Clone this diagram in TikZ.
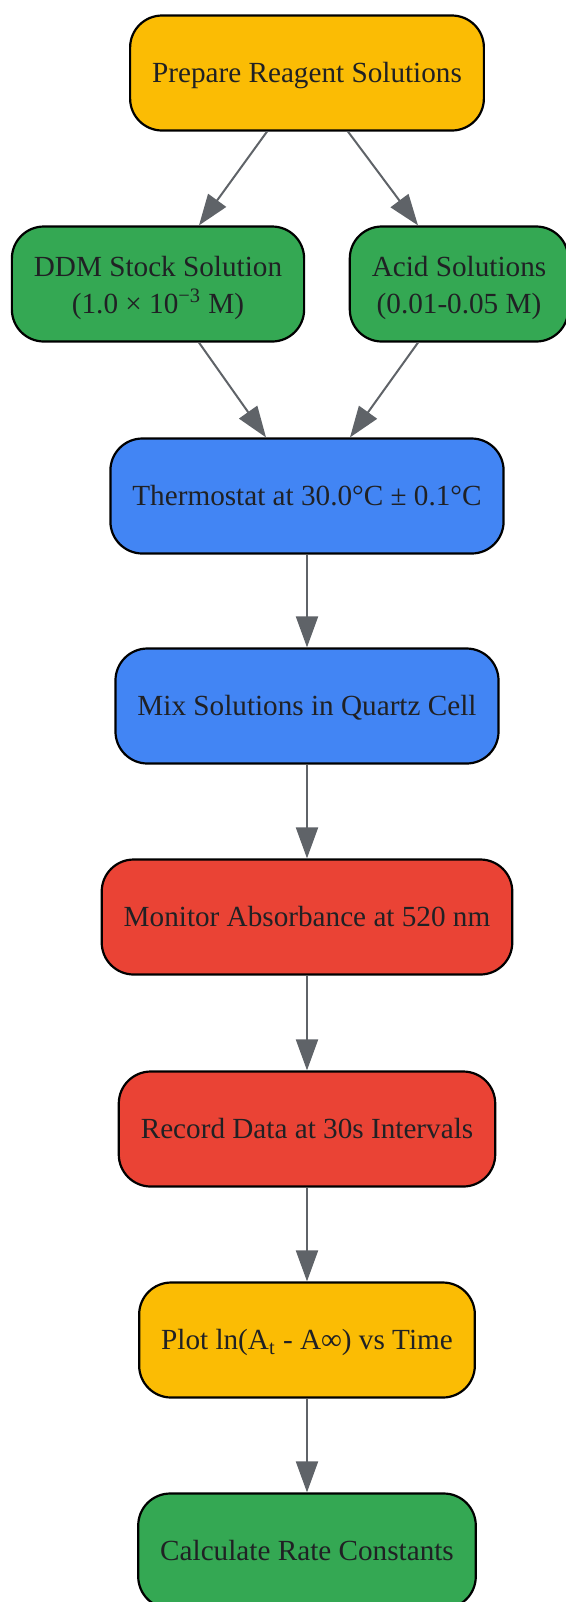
\documentclass[tikz,border=0pt]{standalone}
\usepackage{fontspec}
\setmainfont{Liberation Serif}
\usetikzlibrary{arrows.meta}
\definecolor{gyellow}{HTML}{FBBC04}
\definecolor{ggreen}{HTML}{34A853}
\definecolor{gblue}{HTML}{4285F4}
\definecolor{gred}{HTML}{EA4335}
\definecolor{ggrey}{HTML}{5F6368}
\definecolor{gtext}{HTML}{202124}
\begin{document}
\begin{tikzpicture}[x=0.5pt, y=-0.5pt,
			stage/.style={rectangle, rounded corners=16pt, draw=black, line width=1.1pt,
				minimum height=57.5pt, inner xsep=11pt, align=center, text=gtext,
				text height=12pt, text depth=2.3pt,
				font=\fontsize{14.6}{18.3}\selectfont},
			twoline/.style={text height=30.5pt, text depth=1.3pt},
			flow/.style={draw=ggrey, line width=1pt, -{Triangle[length=15.5pt,width=11pt]}}]
				\useasboundingbox (0,0) rectangle (566,1602);
				\node[stage, fill=gyellow] (1) at(307,73){Prepare Reagent Solutions};
				\node[stage, twoline, fill=ggreen] (2) at(158,284){DDM Stock Solution\\(1.0 × 10\textsuperscript{−3} M)};
				\node[stage, twoline, fill=ggreen] (3) at(459,284){Acid Solutions\\(0.01-0.05 M)};
				\node[stage, fill=gblue] (4) at(307,496){Thermostat at 30.0°C ± 0.1°C};
				\node[stage, fill=gblue] (5) at(307,706){Mix Solutions in Quartz Cell};
				\node[stage, fill=gred] (6) at(307,917){Monitor Absorbance at 520 nm};
				\node[stage, fill=gred] (7) at(307,1129){Record Data at 30s Intervals};
				\node[stage, fill=gyellow] (8) at(307,1340){Plot ln(A\textsubscript{t} - A∞) vs Time};
				\node[stage, fill=ggreen] (9) at(307,1551){Calculate Rate Constants};
				\draw[flow] ([xshift=-20pt]1.south) -- ([xshift=20.5pt]2.north);
				\draw[flow] ([xshift=20.5pt]1.south) -- ([xshift=-20.5pt]3.north);
				\draw[flow] ([xshift=20.5pt]2.south) -- ([xshift=-20.5pt]4.north);
				\draw[flow] ([xshift=-20.5pt]3.south) -- ([xshift=21.5pt]4.north);
				\foreach \a/\b in {4/5, 5/6, 6/7, 7/8, 8/9}
					\draw[flow] (\a) -- (\b);
			\end{tikzpicture}
\end{document}
